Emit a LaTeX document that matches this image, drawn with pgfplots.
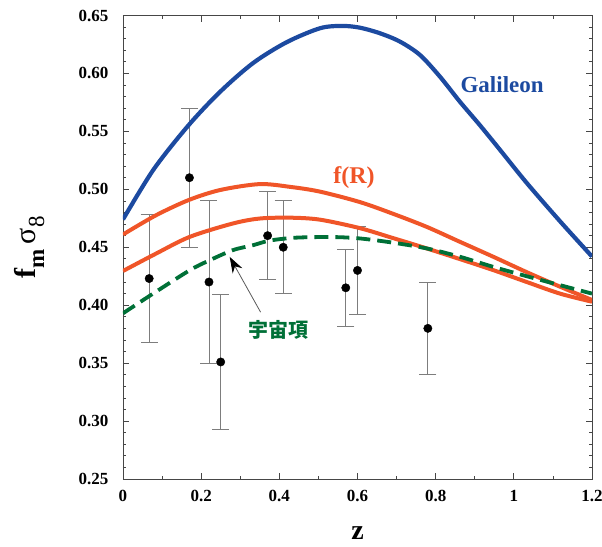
\documentclass[border=0pt]{standalone}
\usepackage{fontspec}
\setmainfont{Liberation Serif}
\newfontfamily\cjk{Noto Sans CJK JP}
\usepackage{pgfplots}
\pgfplotsset{compat=1.18}
\usetikzlibrary{calc,arrows.meta}
\definecolor{galblue}{RGB}{28,74,160}
\definecolor{frorange}{RGB}{240,85,40}
\definecolor{lcdmgreen}{RGB}{0,112,55}
\definecolor{axgray}{RGB}{70,70,70}
\definecolor{errgray}{RGB}{125,125,125}
\begin{document}
\begin{tikzpicture}
\begin{axis}[
  name=ax,
  scale only axis,
  width=469pt, height=463.5pt,
  xmin=0, xmax=1.2, ymin=0.25, ymax=0.65,
  xtick={0,0.2,0.4,0.6,0.8,1,1.2},
  xticklabels={0,0.2,0.4,0.6,0.8,1,1.2},
  ytick={0.25,0.30,0.35,0.40,0.45,0.50,0.55,0.60,0.65},
  yticklabels={0.25,0.30,0.35,0.40,0.45,0.50,0.55,0.60,0.65},
  minor x tick num=1,
  minor y tick num=4,
  tick align=inside,
  tick pos=both,
  major tick length=6pt,
  minor tick length=3.5pt,
  axis line style={axgray, line width=0.9pt},
  every tick/.style={axgray, line width=0.7pt},
  tick label style={font=\fontsize{17}{17}\selectfont\bfseries},
  xticklabel shift=8pt,
  yticklabel shift=11pt,
  xlabel={z},
  xlabel style={font=\fontsize{28}{28}\selectfont\bfseries, at={(axis description cs:0.5,-0.13)}, anchor=base},
  ylabel={\fontsize{30}{30}\selectfont\bfseries f\raisebox{-9pt}{\fontsize{23}{23}\selectfont m}\,{\mdseries σ}\raisebox{-9pt}{\fontsize{23}{23}\selectfont\mdseries 8}},
  ylabel style={at={(axis description cs:-0.16,0.5)}, anchor=south, rotate=0},
  clip=true,
]
% data points with error bars
\addplot[only marks, mark=*, mark size=4.2pt, color=black,
  error bars/.cd, y dir=both, y explicit,
  error bar style={errgray, line width=0.9pt},
  error mark options={rotate=90, errgray, mark size=8.5pt, line width=0.9pt}]
  table[x=z, y=v, y error=e] {
  z v e
  0.067 0.423 0.055
  0.17 0.510 0.060
  0.22 0.420 0.070
  0.25 0.351 0.058
  0.37 0.460 0.038
  0.41 0.450 0.040
  0.57 0.415 0.033
  0.60 0.430 0.038
  0.78 0.380 0.040
};
% Galileon
\addplot[galblue, line width=4.2pt, smooth] coordinates {
  (0,0.474) (0.078,0.517) (0.167,0.555) (0.248,0.584) (0.333,0.609)
  (0.419,0.627) (0.504,0.639) (0.56,0.641) (0.606,0.6395) (0.658,0.6346)
  (0.709,0.6274) (0.760,0.6159) (0.811,0.5972) (0.862,0.5756) (0.913,0.5554)
  (0.965,0.5339) (1.033,0.5055) (1.118,0.4725) (1.2,0.442)
};
% f(R) upper
\addplot[frorange, line width=4pt, smooth] coordinates {
  (0,0.461) (0.085,0.4777) (0.17,0.491) (0.25,0.4995) (0.35,0.5045) (0.43,0.502)
  (0.504,0.498) (0.606,0.489) (0.69,0.479) (0.777,0.4676) (0.86,0.455)
  (0.948,0.4417) (1.033,0.4285) (1.118,0.416) (1.2,0.4045)
};
% f(R) lower
\addplot[frorange, line width=4pt, smooth] coordinates {
  (0,0.4295) (0.085,0.4446) (0.171,0.459) (0.281,0.4705) (0.35,0.4748) (0.43,0.4755)
  (0.504,0.4738) (0.606,0.4665) (0.69,0.458) (0.777,0.449) (0.86,0.440)
  (0.948,0.4302) (1.033,0.420) (1.118,0.410) (1.2,0.403)
};
% Lambda (dashed)
\addplot[lcdmgreen, line width=3.8pt, smooth, dash pattern=on 14pt off 7pt] coordinates {
  (0,0.393) (0.077,0.410) (0.171,0.4302) (0.22,0.4385) (0.281,0.4475) (0.333,0.4518)
  (0.376,0.4558) (0.444,0.4583) (0.537,0.4588) (0.606,0.4576) (0.69,0.4540)
  (0.777,0.449) (0.86,0.442) (0.948,0.433) (1.033,0.425) (1.118,0.4173) (1.2,0.410)
};
\draw[black!65, line width=0.8pt, -{Stealth[length=16pt,width=11pt,black]}] (axis cs:0.352,0.394) -- (axis cs:0.273,0.4417);
\node[galblue, font=\bfseries\fontsize{23}{23}\selectfont] at (axis cs:0.970,0.590) {Galileon};
\node[frorange, font=\bfseries\fontsize{24}{24}\selectfont] at (axis cs:0.591,0.5097) {f(R)};
\node[lcdmgreen, font=\cjk\bfseries\fontsize{20}{20}\selectfont] at (axis cs:0.397,0.379) {宇宙項};
\end{axis}
\pgfresetboundingbox
\path ($(ax.south west)+(-123pt,-67pt)$) rectangle ($(ax.north east)+(10pt,15.5pt)$);
\end{tikzpicture}
\end{document}
